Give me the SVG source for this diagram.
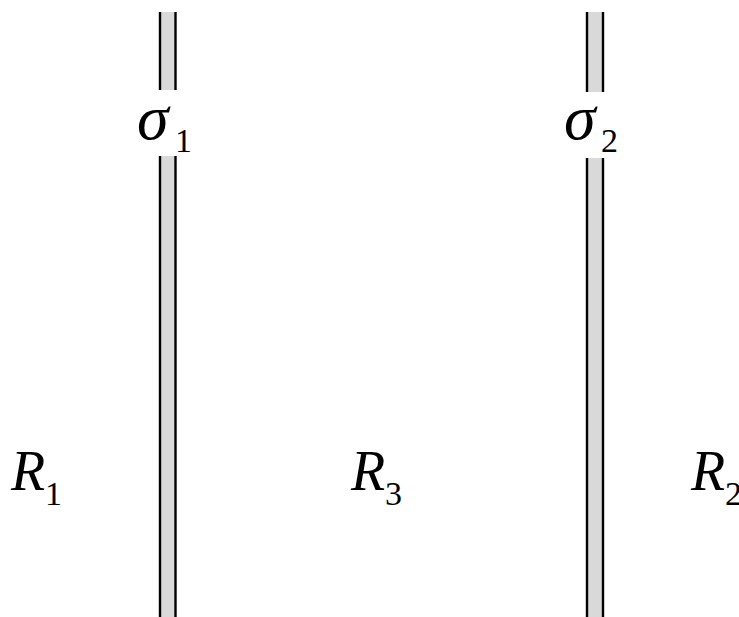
<svg xmlns="http://www.w3.org/2000/svg" width="739" height="617" viewBox="0 0 739 617">
<style>
.fill{fill:#d9d9d9;stroke:none}
.edge{stroke:#000;stroke-width:2.4;fill:none}
text{font-family:'Liberation Serif','Times New Roman','DejaVu Serif',serif;fill:#000}
.m{font-style:italic;font-size:56px}
.g{font-style:italic;font-size:64px}
.s{font-size:34px}
</style>
<rect width="739" height="617" fill="#fff"/>
<g id="wall1">
<rect class="fill" x="160" y="12" width="16" height="78"/>
<rect class="fill" x="160" y="156" width="16" height="461"/>
<path class="edge" d="M160,12V90M175.5,12V90M160,156V617M175.5,156V617"/>
</g>
<g id="wall2">
<rect class="fill" x="587" y="12" width="16" height="80"/>
<rect class="fill" x="587" y="158" width="16" height="459"/>
<path class="edge" d="M587,12V92M603,12V92M587,158V617M603,158V617"/>
</g>
<g id="sigma1"><text class="g" x="137" y="139">σ</text><text class="s" x="175" y="152">1</text></g>
<g id="sigma2"><text class="g" x="564" y="139">σ</text><text class="s" x="601" y="152">2</text></g>
<g id="R1"><text class="m" x="11" y="490">R</text><text class="s" x="45" y="505">1</text></g>
<g id="R3"><text class="m" x="351" y="490">R</text><text class="s" x="385" y="505">3</text></g>
<g id="R2"><text class="m" x="691" y="490">R</text><text class="s" x="725" y="505">2</text></g>
</svg>
